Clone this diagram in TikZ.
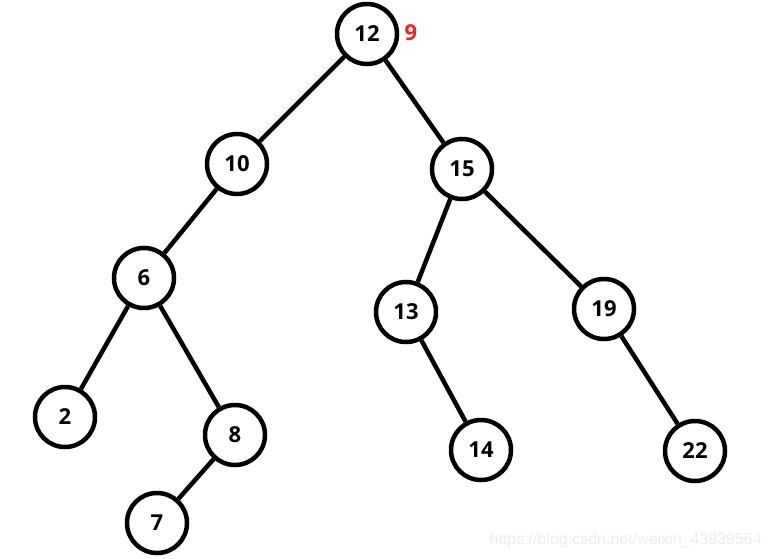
\documentclass[tikz,border=0pt]{standalone}
\usepackage{fontspec}
\setmainfont{Open Sans}
\newfontfamily\wmfont{Liberation Sans}
\definecolor{markred}{RGB}{250,30,40}
\definecolor{wmgray}{RGB}{238,238,238}
\begin{document}
\begin{tikzpicture}[x=1pt,y=-1pt,
  treenode/.style={circle,draw=black,line width=4.5pt,minimum size=60pt,inner sep=0pt,
    font=\fontsize{22}{26}\selectfont\bfseries},
  edge/.style={draw=black,line width=4.5pt}]
\useasboundingbox[fill=white] (0,0) rectangle (773,559);
\node[treenode] (n12) at (367,34) {12};
\node[treenode] (n10) at (237,164) {10};
\node[treenode] (n15) at (462,169) {15};
\node[treenode] (n6) at (144,278) {6};
\node[treenode] (n13) at (406,312) {13};
\node[treenode] (n19) at (604,309) {19};
\node[treenode] (n2) at (65,417) {2};
\node[treenode] (n8) at (235,435) {8};
\node[treenode] (n14) at (481,450) {14};
\node[treenode] (n22) at (695,451) {22};
\node[treenode] (n7) at (157,523) {7};
\node[text=markred,font=\fontsize{22}{26}\selectfont\bfseries] (lbl) at (411,33) {9};
\draw[edge] (n12) -- (n10);
\draw[edge] (n12) -- (n15);
\draw[edge] (n10) -- (n6);
\draw[edge] (n15) -- (n13);
\draw[edge] (n15) -- (n19);
\draw[edge] (n6) -- (n2);
\draw[edge] (n6) -- (n8);
\draw[edge] (n13) -- (n14);
\draw[edge] (n19) -- (n22);
\draw[edge] (n8) -- (n7);
\node[anchor=base east,text=wmgray,font=\wmfont\fontsize{16}{18}\selectfont,inner sep=0pt] (wm) at (762,544) {https://blog.csdn.net/weixin\_43939564};
\end{tikzpicture}
\end{document}
